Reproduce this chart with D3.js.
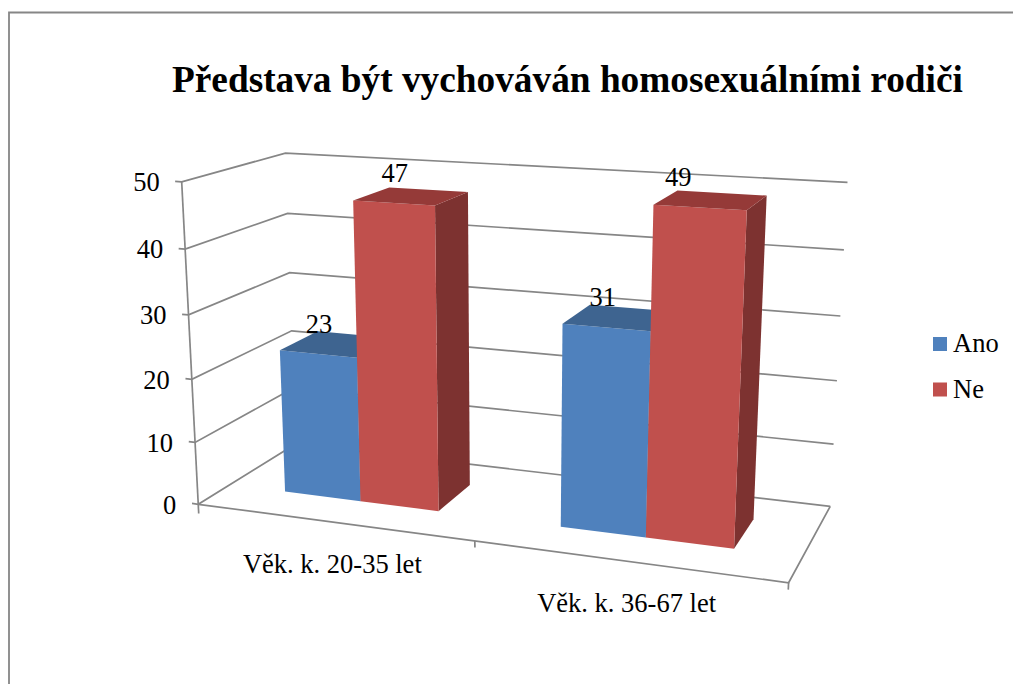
<!DOCTYPE html>
<html><head><meta charset="utf-8"><script src="https://cdn.jsdelivr.net/npm/d3@7"></script>
<style>html,body{margin:0;background:#fff}svg{display:block}text{font-family:"Liberation Serif",serif;fill:#000}</style></head><body><svg id="c" width="1013" height="684"></svg><script>
const title="Představa být vychováván homosexuálními rodiči";
const categories=["Věk. k. 20-35 let","Věk. k. 36-67 let"];
const series=["Ano","Ne"];
const ano=[23,31];
const ne=[47,49];
const yTicks=[0,10,20,30,40,50];
const labelDx={Ano:[1,-3.5],Ne:[1,-21.5]};
const colors={Ano:{front:"#4F81BD",top:"#3E6490",side:"#3A5F8C"},Ne:{front:"#C0504D",top:"#953A38",side:"#7D3230"}};
const calib=[
[0,0,0,198.3,504],[0,0,.2,195,442.3],[0,0,.4,192.2,379],[0,0,.6,188.7,314.7],[0,0,.8,185,249],[0,0,1,181.7,181.7],
[0,1,.4,291.7,331.7],[0,1,.6,289.3,272.7],[0,1,.8,287.3,213.7],[0,1,1,285.7,152.7],
[1,1,0,830.3,505.7],[1,1,.2,834,444],[1,1,.4,836.5,380],[1,1,.6,840.7,316],[1,1,.8,844,250.7],[1,1,1,847.3,182.3],
[1,0,0,788.3,583.3],[.5,0,0,474.7,541.7]];
function solve(A,b){const n=b.length;A=A.map((r,i)=>[...r,b[i]]);for(let i=0;i<n;i++){let p=i;for(let k=i+1;k<n;k++)if(Math.abs(A[k][i])>Math.abs(A[p][i]))p=k;[A[i],A[p]]=[A[p],A[i]];for(let k=i+1;k<n;k++){const f=A[k][i]/A[i][i];for(let j=i;j<=n;j++)A[k][j]-=f*A[i][j];}}const x=Array(n).fill(0);for(let i=n-1;i>=0;i--){let s=A[i][n];for(let j=i+1;j<n;j++)s-=A[i][j]*x[j];x[i]=s/A[i][i];}return x;}
const rows=[],rhs=[];calib.forEach(([u,v,w,x,y])=>{rows.push([u,v,w,1,0,0,0,0,-x*u,-x*v,-x*w]);rhs.push(x);rows.push([0,0,0,0,u,v,w,1,-y*u,-y*v,-y*w]);rhs.push(y);});
const N=rows[0].map((_,i)=>rows[0].map((_,j)=>d3.sum(rows,r=>r[i]*r[j])));
const R=rows[0].map((_,i)=>d3.sum(rows,(r,k)=>r[i]*rhs[k]));
const m=solve(N,R);
const P=(u,v,w)=>{const d=m[8]*u+m[9]*v+m[10]*w+1;return[(m[0]*u+m[1]*v+m[2]*w+m[3])/d,(m[4]*u+m[5]*v+m[6]*w+m[7])/d];};
const svg=d3.select("#c");
const yS=d3.scaleLinear().domain([0,50]).range([0,1]);
const xS=d3.scaleBand().domain(categories).range([0,1]);
const inner=d3.scaleBand().domain(series).range([0,xS.bandwidth()]).paddingOuter(.75).paddingInner(0);
const V0=.304,V1=.702;
const line=d3.line();
const grey="#868686",sw=1.7,fs=26.5;
const stroke=pts=>svg.append("path").attr("d",line(pts)).attr("fill","none").attr("stroke",grey).attr("stroke-width",sw);
svg.append("path").attr("d","M9 684V12.5H1013").attr("fill","none").attr("stroke",grey).attr("stroke-width",1.8);
yTicks.forEach(t=>{const w=yS(t);stroke([P(-.012,0,w),P(0,0,w),P(0,1,w),P(1,1,w)]);
const p=P(0,0,w);svg.append("text").attr("x",p[0]-22).attr("y",p[1]+9.4).attr("text-anchor","end").attr("font-size",fs).text(t);});
stroke([P(0,0,1),P(0,0,-.03)]);
stroke([P(0,0,0),P(1,0,0),P(1,1,0)]);
[.5,1].forEach(u=>stroke([P(u,0,0),P(u,0,-.02)]));
const vals={Ano:ano,Ne:ne};
categories.forEach((c,ci)=>series.forEach(s=>{const u0=xS(c)+inner(s),u1=u0+inner.bandwidth(),w=yS(vals[s][ci]);const poly=(pts,f)=>svg.append("path").attr("d",line(pts)+"Z").attr("fill",f);
poly([P(u1,V0,0),P(u1,V1,0),P(u1,V1,w),P(u1,V0,w)],colors[s].side);
poly([P(u0,V0,0),P(u1,V0,0),P(u1,V0,w),P(u0,V0,w)],colors[s].front);
poly([P(u0,V0,w),P(u1,V0,w),P(u1,V1,w),P(u0,V1,w)],colors[s].top);
}));
categories.forEach((c,ci)=>{
const q=P(xS(c)+xS.bandwidth()/2,0,0);
svg.append("text").attr("x",q[0]).attr("y",q[1]+50.5).attr("text-anchor","middle").attr("font-size",fs).text(c);
series.forEach(s=>{const um=xS(c)+inner(s)+inner.bandwidth()/2,p=P(um,V0,yS(vals[s][ci]));
svg.append("text").attr("x",p[0]+labelDx[s][ci]).attr("y",p[1]-21).attr("text-anchor","middle").attr("font-size",fs).text(vals[s][ci]);});
});
const legY=d3.scalePoint().domain(series).range([344,389.5]);
series.forEach(s=>{svg.append("rect").attr("x",933).attr("y",legY(s)-7).attr("width",14).attr("height",14).attr("fill",colors[s].front);
svg.append("text").attr("x",953).attr("y",legY(s)+8).attr("font-size",fs).text(s);});
svg.append("text").attr("x",172).attr("y",91.5).attr("font-size",37.3).attr("font-weight","bold").text(title);
</script></body></html>
